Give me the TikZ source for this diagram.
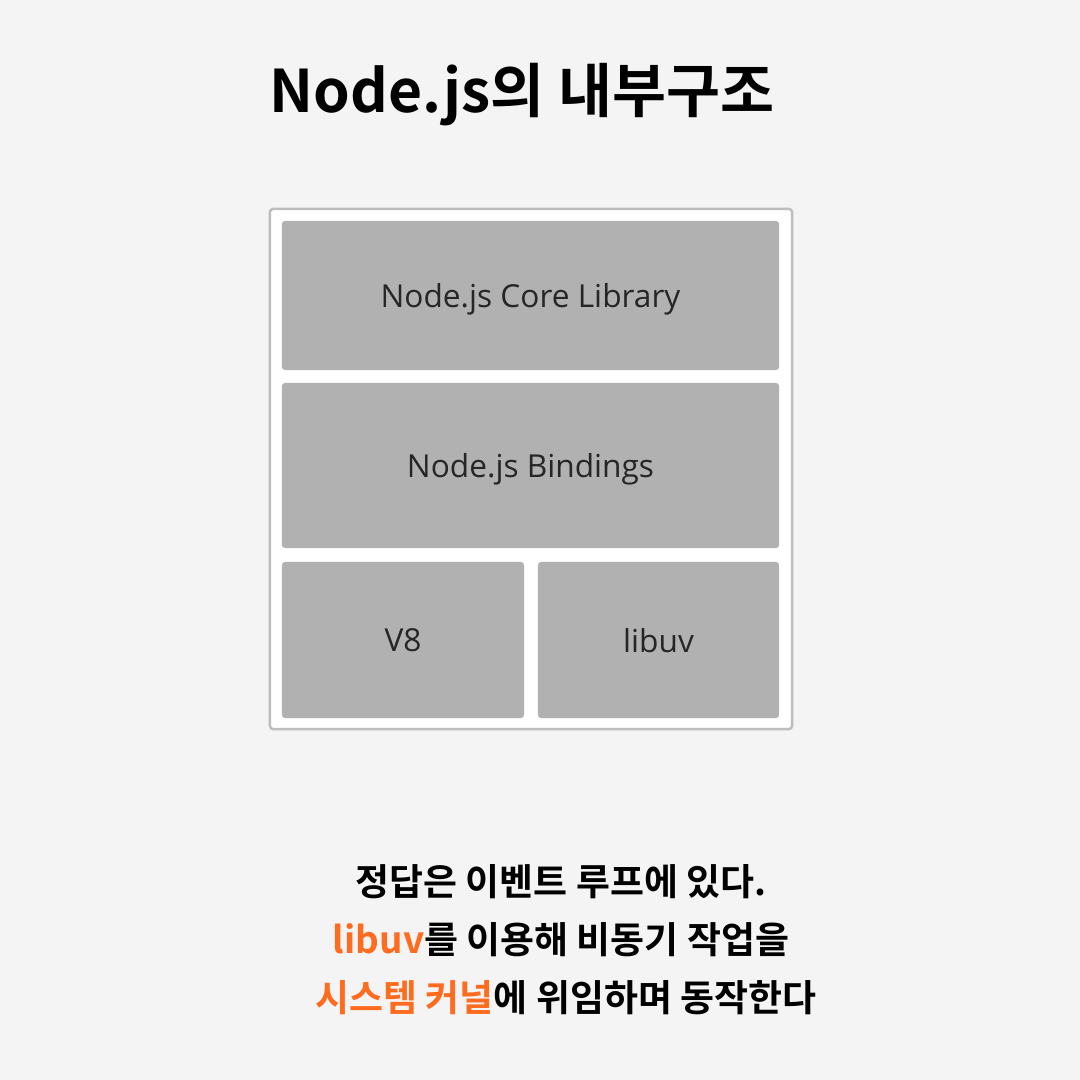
\documentclass[tikz,border=0pt]{standalone}
\usepackage{fontspec}
\setmainfont{Open Sans}
\newfontfamily\cjk{Noto Sans CJK KR}[BoldFont={Noto Sans CJK KR Bold}]

\definecolor{paper}{HTML}{F5F4F4}
\definecolor{boxgray}{HTML}{B1B1B1}
\definecolor{framegray}{HTML}{BDBDBD}
\definecolor{textdark}{HTML}{262626}
\definecolor{accent}{HTML}{FF6B1F}

\tikzset{
    layer/.style={fill=boxgray, rounded corners=0.9pt, inner sep=0pt, text=textdark,
        font=\fontsize{9}{11}\selectfont, text depth=0pt},
    frame/.style={draw=framegray, line width=0.7pt, fill=white, rounded corners=1pt, inner sep=0pt},
    headline/.style={font=\cjk\bfseries\fontsize{16.7}{20}\selectfont, inner sep=0pt},
    caption/.style={font=\cjk\bfseries\fontsize{10.5}{13}\selectfont, inner sep=0pt}
}

\begin{document}
\begin{tikzpicture}[x=0.01cm, y=-0.01cm]
    % Paper background
    \fill[paper] (0,0) rectangle (1080,1080);
    \useasboundingbox (0,0) rectangle (1080,1080);

    % Title
    \node[headline] (title) at (522,95) {Node.js의 내부구조};

    % Outer frame of the stack
    \node[frame, minimum width=5.22cm, minimum height=5.20cm] (stack) at (531,469) {};

    % Layers
    \node[layer, minimum width=4.97cm, minimum height=1.49cm] (core) at (530.5,295.5) {Node.js Core Library};
    \node[layer, minimum width=4.97cm, minimum height=1.65cm] (bind) at (530.5,465.5) {Node.js Bindings};
    \node[layer, minimum width=2.42cm, minimum height=1.56cm] (veight) at (403,640) {V8};
    \node[layer, minimum width=2.41cm, minimum height=1.56cm] (libuv) at (658.5,640) {libuv};

    % Caption
    \node[caption] (lineA) at (561,882) {정답은 이벤트 루프에 있다.};
    \node[caption] (lineB) at (561,940) {\textcolor{accent}{libuv}를 이용해 비동기 작업을};
    \node[caption] (lineC) at (566,998) {\textcolor{accent}{시스템 커널}에 위임하며 동작한다};

\end{tikzpicture}
\end{document}
